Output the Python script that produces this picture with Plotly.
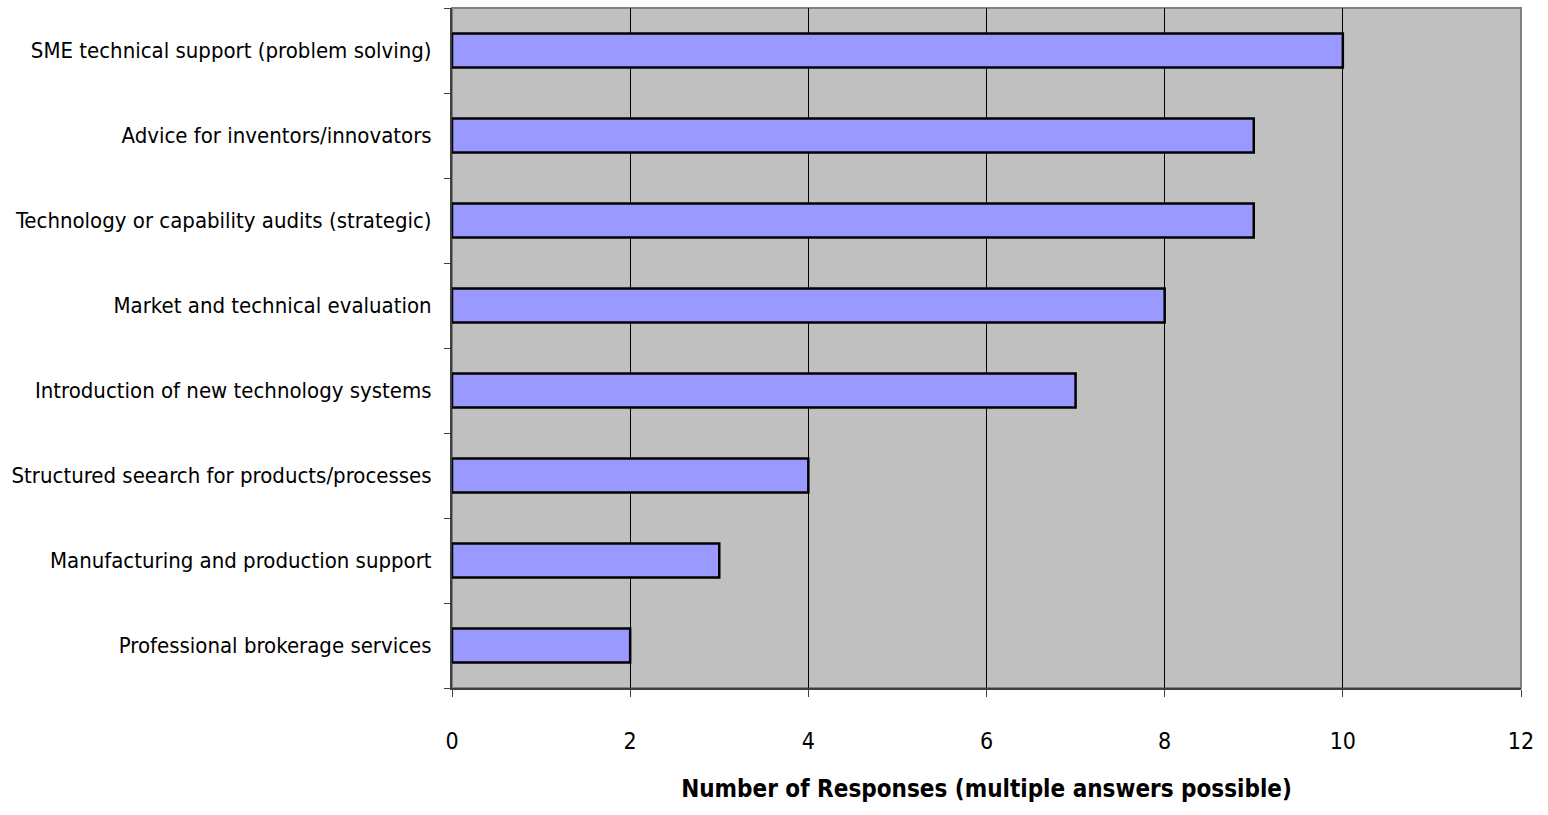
import plotly.graph_objects as go

categories = [
    "SME technical support (problem solving)",
    "Advice for inventors/innovators",
    "Technology or capability audits (strategic)",
    "Market and technical evaluation",
    "Introduction of new technology systems",
    "Structured seearch for products/processes",
    "Manufacturing and production support",
    "Professional brokerage services",
]
values = [10, 9, 9, 8, 7, 4, 3, 2]
x_ticks = [0, 2, 4, 6, 8, 10, 12]

FONT = "DejaVu Sans Condensed, Liberation Sans Narrow, Liberation Sans"

fig = go.Figure(go.Bar(
    y=categories, x=values, orientation="h",
    width=0.4,
    marker=dict(color="#9999FF", line=dict(color="black", width=2.5)),
))

fig.update_layout(
    width=1548, height=815,
    margin=dict(l=452, r=27, t=8, b=127),
    paper_bgcolor="white", plot_bgcolor="#C0C0C0",
    showlegend=False,
    font=dict(family=FONT, color="black", size=22),
    xaxis=dict(
        range=[0, 12], tickvals=x_ticks, ticktext=[str(v) for v in x_ticks],
        showgrid=True, gridcolor="black", gridwidth=1,
        zeroline=False, showline=True, linecolor="#404040", linewidth=2,
        ticks="outside", ticklen=7, tickcolor="#404040", tickwidth=1,
        ticklabelstandoff=24,
        tickfont=dict(size=23, family=FONT),
        title=dict(text="<b>Number of Responses (multiple answers possible)</b>",
                   font=dict(size=24, family=FONT), standoff=28),
    ),
    yaxis=dict(
        categoryorder="array", categoryarray=categories[::-1],
        showgrid=False, zeroline=False,
        showline=True, linecolor="#404040", linewidth=2,
        ticks="outside", ticklen=6, tickcolor="#404040", tickson="boundaries",
        ticklabelstandoff=14,
        tickfont=dict(size=22, family=FONT),
    ),
)
# plot-area border (top and right)
fig.add_shape(type="rect", xref="paper", yref="paper", x0=0, x1=1, y0=0, y1=1,
              line=dict(color="#808080", width=2), layer="below")

fig.write_html("out.html")
